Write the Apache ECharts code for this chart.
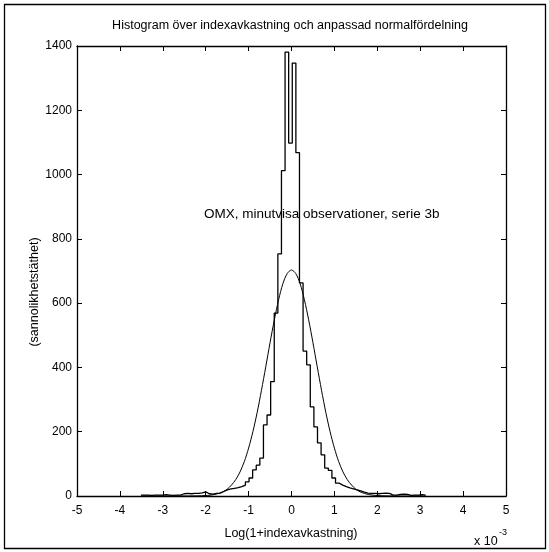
<!DOCTYPE html>
<html>
<head>
<meta charset="utf-8">
<script src="https://cdn.jsdelivr.net/npm/echarts@6/dist/echarts.min.js"></script>
<style>
html,body{margin:0;padding:0;background:#fff;}
#chart{width:549px;height:552px;}
</style>
</head>
<body>
<div id="chart"></div>
<script>
// ---- data (x in units of 1e-3) ----
const titleText = 'Histogram över indexavkastning och anpassad normalfördelning';
const xName = 'Log(1+indexavkastning)';
const yName = '(sannolikhetstäthet)';
const noteText = 'OMX, minutvisa observationer, serie 3b';
const xTickLabels = ['-5','-4','-3','-2','-1','0','1','2','3','4','5'];
const yTickLabels = ['0','200','400','600','800','1000','1200','1400'];

// stairs histogram: first bin position and bin width (x 1e-3)
const binStart = -3.51;
const binWidth = 0.084;
const density = [
  3, 3, 2, 3, 3, 3, 4, 3, 2, 3, 3,
  7, 8, 7, 8, 8, 10, 13, 7, 6, 8, 9,
  14, 19, 22, 24, 26, 29, 34, 44, 56, 81,
  96, 118, 221, 252, 356, 569, 753, 1012, 1381, 1098,
  1347, 1068, 663, 451, 408, 277, 215, 165, 128, 87,
  80, 56, 40, 34, 29, 25, 22, 19, 16, 12,
  9, 8, 8, 7, 8, 9, 8, 3, 3, 5,
  6, 5, 2, 3, 3, 4, 3, 3
];

// fitted normal curve
const curveX = [-3.5,-2.6,-2.2,-2.0,-1.9,-1.8,-1.7,-1.6,-1.5,-1.4,-1.3,-1.2,-1.1,-1.0,-0.9,-0.8,-0.7,-0.6,-0.5,-0.4,-0.3,-0.2,-0.1,0,
  0.1,0.2,0.3,0.4,0.5,0.6,0.7,0.8,0.9,1.0,1.1,1.2,1.3,1.4,1.5,1.6,1.7,1.8,1.9,2.0,2.2,2.6,3.13];
const curveY = [0,0,0.4,1.4,2.6,4.6,8,13,21,34,51,75,107,149,200,260,329,402,477,548,611,661,692,703,
  692,661,611,548,477,402,329,260,200,149,107,75,51,34,21,13,8,4.6,2.6,1.4,0.4,0,0];

// ---- chart ----
const chart = echarts.init(document.getElementById('chart'), null, {renderer:'canvas'});
const FONT = 'Liberation Sans, Arial, sans-serif';
const histData = density.map((v,i)=>[binStart + i*binWidth, v]);
const curveData = curveX.map((x,i)=>[x, curveY[i]]);

const axisLine = {show:true, onZero:false, lineStyle:{color:'#000', width:1.3}};
const tick = {show:true, inside:true, length:5, lineStyle:{color:'#000', width:1}};

const G = {left:77, top:46, right:506, bottom:496};

const option = {
  animation:false,
  backgroundColor:'#fff',
  grid:{left:G.left, top:G.top, width:G.right-G.left, height:G.bottom-G.top, containLabel:false},
  xAxis:[{
    type:'value', min:-5, max:5, interval:1, position:'bottom',
    axisLine, axisTick:tick, splitLine:{show:false},
    axisLabel:{color:'#000', fontFamily:FONT, fontSize:12, margin:9,
      formatter:(v)=>xTickLabels[Math.round(v)+5]}
  },{
    type:'value', min:-5, max:5, interval:1, position:'top',
    axisLine, axisTick:tick, splitLine:{show:false}, axisLabel:{show:false}
  }],
  yAxis:[{
    type:'value', min:0, max:1400, interval:200, position:'left',
    axisLine, axisTick:tick, splitLine:{show:false},
    axisLabel:{color:'#000', fontFamily:FONT, fontSize:12, margin:5,
      formatter:(v)=>yTickLabels[Math.round(v/200)]}
  },{
    type:'value', min:0, max:1400, interval:200, position:'right',
    axisLine, axisTick:tick, splitLine:{show:false}, axisLabel:{show:false}
  }],
  series:[{
    type:'line', step:'end', data:histData, showSymbol:false, symbol:'none',
    lineStyle:{color:'#000', width:1.3}, xAxisIndex:0, yAxisIndex:0, z:3
  },{
    type:'line', data:curveData, showSymbol:false, symbol:'none', smooth:0.3,
    lineStyle:{color:'#000', width:1}, xAxisIndex:0, yAxisIndex:0, z:3
  }],
  graphic:[
    {type:'rect', shape:{x:4.5, y:4.5, width:541, height:544}, style:{fill:null, stroke:'#000', lineWidth:1.3}, silent:true},
    {type:'text', x:290, y:26, style:{text:titleText, font:'12.5px '+FONT, fill:'#000', textAlign:'center', textVerticalAlign:'middle'}},
    {type:'text', x:291, y:534, style:{text:xName, font:'12.5px '+FONT, fill:'#000', textAlign:'center', textVerticalAlign:'middle'}},
    {type:'text', x:35, y:292, rotation:Math.PI/2, style:{text:yName, font:'12.5px '+FONT, fill:'#000', textAlign:'center', textVerticalAlign:'middle'}},
    {type:'text', x:204, y:214, style:{text:noteText, font:'13.5px '+FONT, fill:'#000', textAlign:'left', textVerticalAlign:'middle'}},
    {type:'text', x:474, y:542, style:{text:'x 10', font:'12.5px '+FONT, fill:'#000', textAlign:'left', textVerticalAlign:'middle'}},
    {type:'text', x:499, y:533, style:{text:'-3', font:'9px '+FONT, fill:'#000', textAlign:'left', textVerticalAlign:'middle'}}
  ]
};
chart.setOption(option);
</script>
</body>
</html>
